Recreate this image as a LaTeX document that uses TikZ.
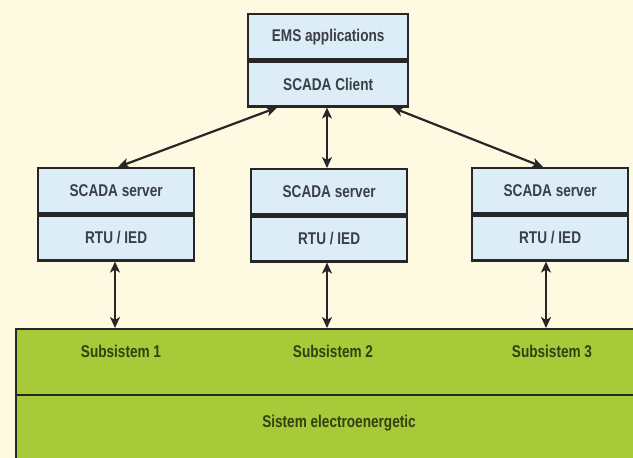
\documentclass[tikz,border=0pt]{standalone}
\usepackage{fontspec}
\setmainfont{Liberation Sans}[FakeStretch=0.8]
\usetikzlibrary{arrows.meta}
\definecolor{paper}{HTML}{FEFAE2}
\definecolor{boxfill}{HTML}{DCEDF8}
\definecolor{field}{HTML}{A6CA38}
\definecolor{ink}{HTML}{262626}
\definecolor{txt}{HTML}{3A3F45}
\definecolor{gtxt}{HTML}{33400F}
\tikzset{
  cell/.style={draw=ink, line width=2.3pt, fill=boxfill, minimum height=45pt,
    inner sep=0pt, text=txt, font=\fontsize{17}{19}\selectfont\bfseries},
  topcell/.style={cell, minimum width=160pt},
  srvcell/.style={cell, minimum width=156pt},
  band/.style={draw=ink, line width=2.3pt, fill=field, inner sep=0pt},
  lbl/.style={text=gtxt, font=\fontsize{17}{19}\selectfont\bfseries},
  link/.style={draw=ink, line width=2.2pt, {Stealth[length=11pt,width=10pt,inset=3pt]}-{Stealth[length=11pt,width=10pt,inset=3pt]}}
}
\begin{document}
\begin{tikzpicture}[x=1pt,y=-1pt]
  \useasboundingbox[fill=paper] (0,0) rectangle (633,458);
  % power system bands
  \begin{scope}
    \clip (0,0) rectangle (633,458);
    \node[band, anchor=north west, minimum width=640pt, minimum height=66pt] (subs) at (15,328) {};
    \node[band, anchor=north west, minimum width=640pt, minimum height=80pt] (grid) at (15,394) {};
  \end{scope}
  \node[lbl] (s1) at (121,351) {Subsistem 1};
  \node[lbl] (s2) at (333,351) {Subsistem 2};
  \node[lbl] (s3) at (552,351) {Subsistem 3};
  \node[lbl] (sys) at (339,423) {Sistem electroenergetic};
  % control centre
  \node[topcell, anchor=north west] (ems) at (247,13) {EMS applications};
  \node[topcell, anchor=north] (client) at (ems.south) {SCADA Client};
  % substation servers
  \node[srvcell, anchor=north west] (srvA) at (37,167) {SCADA server};
  \node[srvcell, anchor=north] (rtuA) at (srvA.south) {RTU / IED};
  \node[srvcell, anchor=north west] (srvB) at (250,168) {SCADA server};
  \node[srvcell, anchor=north] (rtuB) at (srvB.south) {RTU / IED};
  \node[srvcell, anchor=north west] (srvC) at (471,167) {SCADA server};
  \node[srvcell, anchor=north] (rtuC) at (srvC.south) {RTU / IED};
  % client to servers
  \draw[link] ([xshift=30pt]client.south west) -- ([xshift=81pt]srvA.north west);
  \draw[link] ([xshift=80pt]client.south west) -- ([xshift=77pt]srvB.north west);
  \draw[link] ([xshift=-17pt]client.south east) -- ([xshift=72pt]srvC.north west);
  % servers to subsystems
  \draw[link] ([xshift=78pt]rtuA.south west) -- ([xshift=78pt]rtuA.south west |- subs.north);
  \draw[link] ([xshift=77pt]rtuB.south west) -- ([xshift=77pt]rtuB.south west |- subs.north);
  \draw[link] ([xshift=75pt]rtuC.south west) -- ([xshift=75pt]rtuC.south west |- subs.north);
\end{tikzpicture}
\end{document}
